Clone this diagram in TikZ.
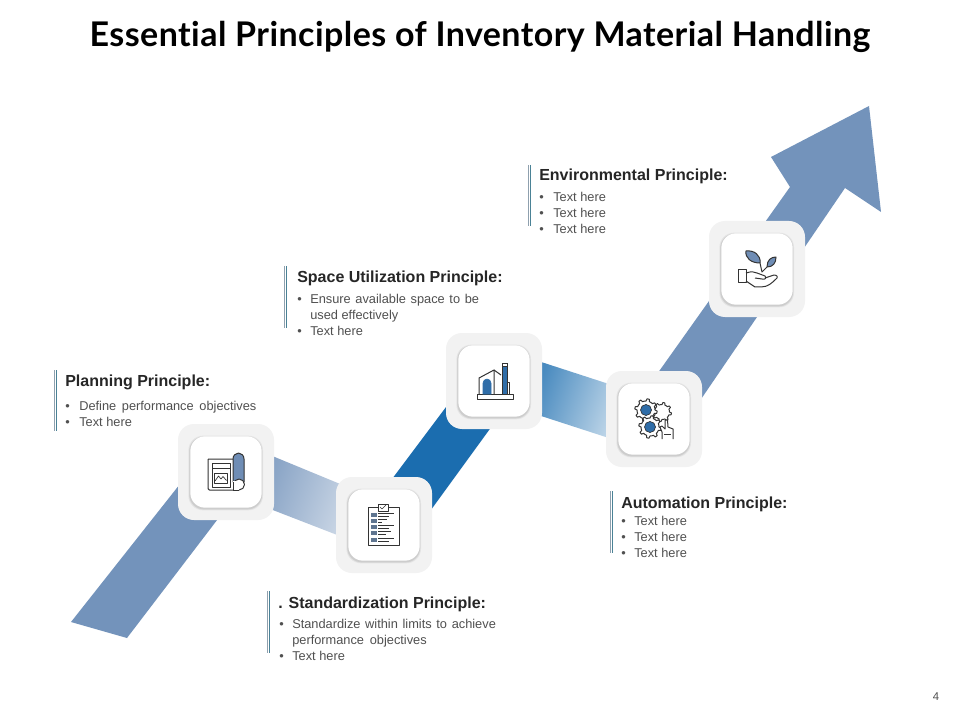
\documentclass[tikz,border=0pt]{standalone}
\usepackage{fontspec}
\setmainfont{Liberation Sans}
\newfontfamily\titlefont[Ligatures=NoCommon,LetterSpace=1.3]{Lato}
\definecolor{arrowblue}{HTML}{7393BB}
\definecolor{deepblue}{HTML}{1B6DAF}
\definecolor{iconblue}{HTML}{2F6DA8}
\definecolor{iconslate}{HTML}{6F8DB5}
\definecolor{rowslate}{HTML}{5F7590}
\definecolor{inkgray}{HTML}{333333}
\definecolor{bodygray}{HTML}{505050}
\definecolor{headgray}{HTML}{262626}
\definecolor{boxgray}{HTML}{F2F2F2}
\definecolor{barblue}{HTML}{4A8296}
\definecolor{bargray}{HTML}{8FA0AE}
\newcommand{\blfont}{\fontsize{9.6pt}{11pt}\selectfont}
\newcommand{\wide}[2]{{\spaceskip=#1pt\relax #2}}
\tikzset{
  outerbox/.style={fill=boxgray,rounded corners=12pt,minimum size=72pt,inner sep=0pt},
  innerbox/.style={fill=white,rounded corners=11pt,minimum size=53.5pt,inner sep=0pt},
  shadowbox/.style={fill=black,opacity=0.05,rounded corners=11pt,minimum size=#1,inner sep=0pt},
  icon/.style={draw=inkgray,line width=0.75pt,line join=round},
  hd/.style={anchor=base west,inner sep=0pt,font=\fontsize{12pt}{14pt}\selectfont\bfseries,text=headgray},
  bl/.style={anchor=base west,inner sep=0pt,font=\blfont,text=bodygray},
  barone/.style={draw=bargray,line width=0.6pt},
  bartwo/.style={draw=barblue,line width=0.6pt},
}
\newcommand{\cardat}[3]{%
  \node[outerbox] (#1) at (#2,#3) {};
  \node[shadowbox=56pt] at (#2-0.3,#3+1) {};
  \node[shadowbox=55pt] at (#2-0.3,#3+1) {};
  \node[shadowbox=54.5pt] at (#2-0.3,#3+1) {};
  \node[innerbox] (#1i) at (#2,#3) {};
}
\newcommand{\barat}[4]{%
  \coordinate (#1a) at (#2-0.5,#3); \coordinate (#1b) at (#2-0.5,#4);
  \coordinate (#1c) at (#2+1.5,#3); \coordinate (#1d) at (#2+1.5,#4);
  \draw[barone] (#1a) -- (#1b);
  \draw[bartwo] (#1c) -- (#1d);
}
\newcommand{\gearshape}[5]{% x y r tooth fill
  \filldraw[icon,fill=#5] plot[samples=65,domain=0:360] ({#1+(#3+#4*(sin(8*\x)>0))*cos(\x)},{#2+(#3+#4*(sin(8*\x)>0))*sin(\x)}) -- cycle;
}
\begin{document}
\begin{tikzpicture}[x=0.75pt,y=-0.75pt]
\useasboundingbox (0,0) rectangle (960,720);
\fill[white] (0,0) rectangle (960,720);

% title
\node[inner sep=0pt,font=\titlefont\fontsize{25.5pt}{28pt}\selectfont\bfseries,text=black] (title) at (480,37) {Essential Principles of Inventory Material Handling};

% arrow
\fill[arrowblue] (71,622) -- (195,465) -- (240,490) -- (127,638) -- cycle;
\shade[left color=arrowblue!85!white,right color=arrowblue!40!white,shading angle=70] (265,453) -- (345,486) -- (345,538) -- (265,507) -- cycle;
\fill[deepblue] (380,495) -- (455,395) -- (500,415) -- (420,525) -- cycle;
\shade[left color=deepblue!80!white,right color=deepblue!30!white,shading angle=70] (535,360) -- (615,386) -- (615,440) -- (535,414) -- cycle;
\fill[arrowblue] (650,384) -- (790,187) -- (771,157) -- (869,106) -- (881,212) -- (845,188) -- (695,408) -- cycle;

% cards
\cardat{n1}{226}{472}
\cardat{n2}{384}{525}
\cardat{n3}{494}{381}
\cardat{n4}{654}{419}
\cardat{n5}{757}{269}

% icon 1
\begin{scope}[shift={(n1.center)}]
  \draw[icon,rounded corners=1pt] (-18,-13) -- (8,-13) (-18,-13) -- (-18,18) -- (13,18);
  \filldraw[icon,fill=iconslate] (7,10) -- (7,-13) arc[start angle=180,end angle=360,x radius=5.5,y radius=6] -- (18,10) -- cycle;
  \filldraw[icon,fill=white] (13,12.5) circle[radius=5.5];
  \fill[white] (7.4,18) rectangle (13,9);
  \draw[icon] (7,18) -- (13,18);
  \draw[icon] (7,10) -- (7,18);
  \filldraw[icon,fill=white] (-14,-9) rectangle (4,15);
  \draw[icon] (-14,-4) -- (4,-4);
  \draw[icon] (-12,1) rectangle (1,11);
  \draw[icon,line width=0.5pt] (-11,9) -- (-7.5,4) -- (-5,7) -- (-3,4.5) -- (0.5,8.5);
\end{scope}

% icon 2
\begin{scope}[shift={(n2.center)}]
  \draw[icon] (-16,-18) rectangle (15,20);
  \filldraw[icon,fill=white] (-6,-21) rectangle (4,-14);
  \draw[icon,line width=0.5pt] (-4,-18) -- (-2,-16) -- (2,-20);
  \foreach \yy/\len in {-10/10,-4/3,2/10,8/7,15/10}{
    \fill[rowslate] (-13,\yy-2.2) rectangle (-7.5,\yy+2.2);
    \draw[icon,line width=0.7pt] (-6,\yy-1.5) -- (\len,\yy-1.5);
    \draw[icon,line width=0.4pt] (-6,\yy+1) -- (\len-5,\yy+1);
  }
\end{scope}

% icon 3
\begin{scope}[shift={(n3.center)}]
  \draw[icon] (-17,13) rectangle (19,18);
  \draw[icon] (-15,13) -- (-15,-3) -- (0,-11) -- (0,13);
  \draw[icon] (0,-11) -- (7,-6);
  \draw[icon] (14,1) -- (15,1) -- (15,13);
  \filldraw[draw=inkgray,fill=iconblue,line width=0.5pt] (8,13) -- (8,-15) -- (13,-15) -- (13,13) -- cycle;
  \filldraw[draw=inkgray,fill=white,line width=0.5pt] (8,-18) rectangle (13,-15);
  \filldraw[draw=iconblue,fill=iconblue] (-11,13) -- (-11,2) arc[start angle=180,end angle=360,x radius=4,y radius=4] -- (-3,13) -- cycle;
\end{scope}

% icon 4
\begin{scope}[shift={(n4.center)}]
  \gearshape{8}{-7}{7.5}{2}{white}
  \gearshape{-8}{-9}{9}{2.2}{white}
  \filldraw[draw=inkgray,fill=iconblue,line width=0.5pt] (-8,-9) circle[radius=5.5];
  \gearshape{-4}{8}{9}{2.2}{white}
  \filldraw[draw=inkgray,fill=iconblue,line width=0.5pt] (-4,8) circle[radius=5.5];
  \filldraw[icon,fill=white] (8,20) -- (8,13) -- (6,8) -- (8,7) -- (11,10) -- (11,1) -- (13.5,1) -- (14,8) -- (19,10) -- (19,20);
  \draw[icon] (10,15) -- (17,15);
\end{scope}

% icon 5
\begin{scope}[shift={(n5.center)}]
  \filldraw[icon,fill=iconslate] (3,-6) .. controls (-6,-6) and (-12,-11) .. (-11,-18) .. controls (-3,-19) and (4,-14) .. (3,-6) -- cycle;
  \filldraw[icon,fill=iconslate] (10,-2) .. controls (10,-9) and (14,-12) .. (19,-12) .. controls (19,-6) and (16,-2) .. (10,-2) -- cycle;
  \draw[icon] (3,-6) -- (5,3) -- (10,-2);
  \draw[icon] (-19,1) rectangle (-11,14);
  \draw[icon] (-11,4) .. controls (-5,2) and (-3,3) .. (0,4) -- (8,7) .. controls (10,9) and (8,11) .. (5,10) -- (-2,9);
  \draw[icon] (8,9) -- (17,6) .. controls (20,6) and (21,8) .. (20,9) .. controls (15,14) and (11,18) .. (4,18) -- (-2,18) -- (-11,12);
\end{scope}

% planning
\barat{pb}{55}{370}{431}
\node[hd] (p0) at (65,386) {Planning Principle:};
\node[bl] (p1d) at (65,410) {•};
\node[bl] (p1) at (79,410) {\wide{4.25}{Define performance objectives}};
\node[bl] (p2d) at (65,426) {•};
\node[bl] (p2) at (79,426) {Text here};

% space utilization
\barat{sb}{285}{266}{328}
\node[hd] (s0) at (297,283) {Space Utilization Principle:};
\node[bl] (s1d) at (297,303.5) {•};
\node[bl] (s1) at (310,303.5) {\wide{3.5}{Ensure available space to be}};
\node[bl] (s2) at (310,319.5) {used effectively};
\node[bl] (s3d) at (297,335.5) {•};
\node[bl] (s3) at (310,335.5) {Text here};

% environmental
\barat{eb}{529}{165}{226}
\node[hd] (e0) at (539,181) {Environmental Principle:};
\foreach \nm/\yy in {e1/201.5,e2/217.5,e3/233.5}{
  \node[bl] (\nm d) at (539,\yy) {•};
  \node[bl] (\nm) at (553,\yy) {Text here};
}

% standardization
\barat{tb}{268}{591}{653}
\node[hd] (t0) at (278,608) {. Standardization Principle:};
\node[bl] (t1d) at (279,628.5) {•};
\node[bl] (t1) at (292,628.5) {\wide{3.5}{Standardize within limits to achieve}};
\node[bl] (t2) at (292,644.5) {\wide{4.3}{performance objectives}};
\node[bl] (t3d) at (279,660.5) {•};
\node[bl] (t3) at (292,660.5) {Text here};

% automation
\barat{ab}{611}{491}{553}
\node[hd] (a0) at (621,508) {Automation Principle:};
\foreach \nm/\yy in {a1/525.5,a2/541.5,a3/557.5}{
  \node[bl] (\nm d) at (621,\yy) {•};
  \node[bl] (\nm) at (634,\yy) {Text here};
}

% page number
\node[inner sep=0pt,font=\fontsize{8.5pt}{10pt}\selectfont,text=bodygray] (page) at (936,697) {4};
\end{tikzpicture}
\end{document}
